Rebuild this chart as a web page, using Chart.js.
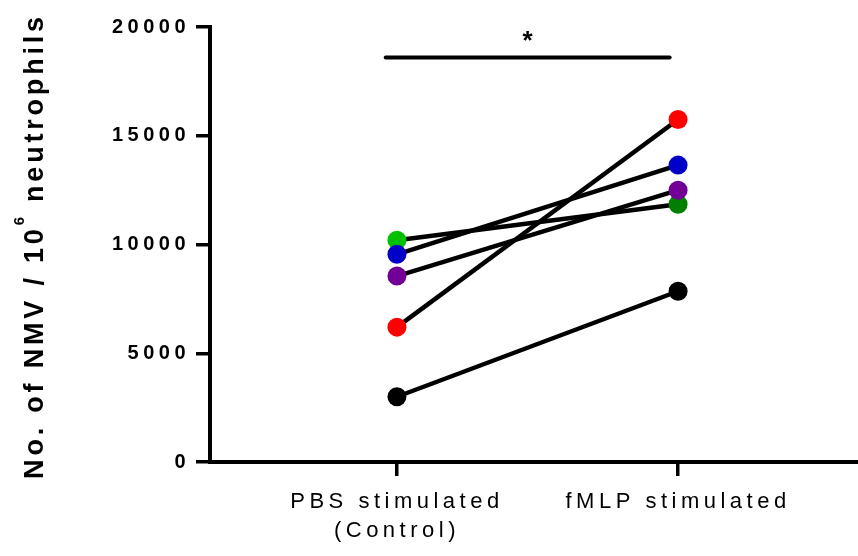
<!DOCTYPE html>
<html lang="en">
<head>
    <meta charset="UTF-8">
    <title>NMV per neutrophils</title>
    <script src="https://cdn.jsdelivr.net/npm/chart.js"></script>
    <style>
        html, body { margin: 0; padding: 0; background: #fff; overflow: hidden; }
        #wrap { width: 858px; height: 556px; }
        canvas { display: block; }
    </style>
</head>
<body>
    <div id="wrap"><canvas id="myChart"></canvas></div>

    <script>
        // data
        const groups = [['PBS stimulated', '(Control)'], ['fMLP stimulated']];
        const groupPos = [1, 2];
        const pbs = [3000, 6200, 8550, 9550, 10200];
        const fmlp = [7850, 15750, 12500, 13650, 11850];
        const pbsColors = ['#000000', '#ff0000', '#730096', '#0000c8', '#00c000'];
        const fmlpColors = ['#000000', '#ff0000', '#730096', '#0000c8', '#008000'];
        const yTicks = [0, 5000, 10000, 15000, 20000];
        const sigFrom = 0.96, sigTo = 1.97, sigY = 18600, sigLabel = '*';

        const datasets = pbs.map((v, i) => ({
            data: [{x: groupPos[0], y: v}, {x: groupPos[1], y: fmlp[i]}],
            borderColor: '#000',
            borderWidth: 4.5,
            pointBackgroundColor: [pbsColors[i], fmlpColors[i]],
            pointBorderWidth: 0,
            pointRadius: 9.5,
            pointHoverRadius: 9.5,
            fill: false
        }));

        // wide letter spacing like the original export
        const spacing = {
            id: 'spacing',
            beforeLayout(chart) { chart.ctx.letterSpacing = '4.5px'; },
            beforeDraw(chart) { chart.ctx.letterSpacing = '4.5px'; }
        };

        // y title with superscript + significance bar
        const extras = {
            id: 'extras',
            afterDraw(chart) {
                const ctx = chart.ctx;
                const xs = chart.scales.x, ys = chart.scales.y;
                ctx.save();
                ctx.fillStyle = '#000';
                ctx.strokeStyle = '#000';

                // significance bar
                const y = ys.getPixelForValue(sigY);
                ctx.lineWidth = 4;
                ctx.lineCap = 'round';
                ctx.beginPath();
                ctx.moveTo(xs.getPixelForValue(sigFrom), y);
                ctx.lineTo(xs.getPixelForValue(sigTo), y);
                ctx.stroke();
                ctx.font = 'bold 26px "Liberation Sans", Arial, sans-serif';
                ctx.textAlign = 'center';
                ctx.textBaseline = 'middle';
                ctx.letterSpacing = '0px';
                ctx.fillText(sigLabel, xs.getPixelForValue((sigFrom + sigTo) / 2), y - 16);

                // axis title
                const parts = [
                    ['No. of NMV / 10', 'bold 27px "Liberation Sans", Arial, sans-serif', 0],
                    ['6', 'bold 15px "Liberation Sans", Arial, sans-serif', -19],
                    [' neutrophils', 'bold 27px "Liberation Sans", Arial, sans-serif', 0]
                ];
                ctx.letterSpacing = '3.8px';
                ctx.textAlign = 'left';
                ctx.textBaseline = 'alphabetic';
                let total = 0;
                parts.forEach(p => { ctx.font = p[1]; total += ctx.measureText(p[0]).width; });
                ctx.translate(43, 246);
                ctx.rotate(-Math.PI / 2);
                let cx = -total / 2;
                parts.forEach(p => {
                    ctx.font = p[1];
                    ctx.fillText(p[0], cx, p[2]);
                    cx += ctx.measureText(p[0]).width;
                });
                ctx.restore();
            }
        };

        const config = {
            type: 'line',
            data: { datasets: datasets },
            options: {
                responsive: true,
                maintainAspectRatio: false,
                animation: false,
                layout: { autoPadding: false, padding: { top: 27, right: 0, left: 0, bottom: 0 } },
                plugins: {
                    legend: { display: false },
                    tooltip: { enabled: false }
                },
                scales: {
                    x: {
                        type: 'linear',
                        min: 0.335,
                        max: 2.64,
                        afterBuildTicks: s => { s.ticks = groupPos.map(v => ({value: v})); },
                        afterFit: s => { s.height = 94; s.paddingLeft = 0; s.paddingRight = 0; },
                        border: { display: true, color: '#000', width: 4 },
                        grid: { drawOnChartArea: false, color: '#000', lineWidth: 3.5, tickLength: 14 },
                        ticks: {
                            color: '#000',
                            padding: 11,
                            maxRotation: 0,
                            autoSkip: false,
                            font: { family: '"Liberation Sans", Arial, sans-serif', size: 22, lineHeight: 1.32 },
                            callback: v => groups[groupPos.indexOf(v)]
                        }
                    },
                    y: {
                        min: 0,
                        max: 20000,
                        afterBuildTicks: s => { s.ticks = yTicks.map(v => ({value: v})); },
                        afterFit: s => { s.width = 210; },
                        border: { display: true, color: '#000', width: 4 },
                        grid: { drawOnChartArea: false, color: '#000', lineWidth: 3.5, tickLength: 14 },
                        ticks: {
                            color: '#000',
                            padding: 6,
                            font: { family: '"Liberation Sans", Arial, sans-serif', size: 20, weight: 'bold' },
                            callback: v => String(v)
                        }
                    }
                }
            },
            plugins: [spacing, extras]
        };

        new Chart(document.getElementById('myChart'), config);
    </script>
</body>
</html>
